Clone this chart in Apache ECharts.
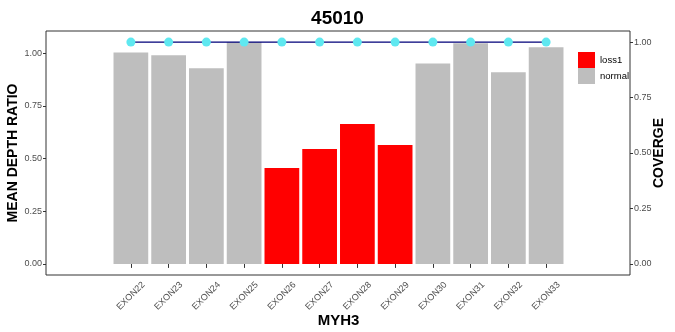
<!DOCTYPE html>
<html>
<head>
<meta charset="utf-8">
<script src="https://cdn.jsdelivr.net/npm/echarts@6/dist/echarts.min.js"></script>
<style>html,body{margin:0;padding:0;background:#fff}#c{width:675px;height:332px}</style>
</head>
<body>
<div id="c"></div>
<script>
const categories = ['EXON22','EXON23','EXON24','EXON25','EXON26','EXON27','EXON28','EXON29','EXON30','EXON31','EXON32','EXON33'];
const depthRatio = [1.003, 0.989, 0.928, 1.052, 0.455, 0.545, 0.663, 0.564, 0.950, 1.046, 0.909, 1.027];
const status = ['normal','normal','normal','normal','loss1','loss1','loss1','loss1','normal','normal','normal','normal'];
const coverage = [1,1,1,1,1,1,1,1,1,1,1,1];
const leftTicks = [0, 0.25, 0.5, 0.75, 1];
const rightTicks = [0, 0.25, 0.5, 0.75, 1];

const leftMin = -0.0526, leftMax = 1.1046;
const rightMin = -0.05, rightMax = 1.05;
const font = 'Liberation Sans, Arial, sans-serif';

const chart = echarts.init(document.getElementById('c'));
const axisBase = (min, max, ticks, pos, name, extra) => Object.assign({
  type: 'value', gridIndex: 0, position: pos, min: min, max: max,
  name: name, nameLocation: 'middle', nameMoveOverlap: false,
  nameTextStyle: {fontFamily: font, fontWeight: 'bold', fontSize: 14, color: '#000'},
  axisLine: {show: false},
  splitLine: {show: false},
  axisTick: {show: true, length: 3, customValues: ticks, lineStyle: {color: '#333'}},
  axisLabel: {show: true, customValues: ticks, fontFamily: font, fontSize: 9, color: '#4d4d4d', margin: 4,
    formatter: v => v.toFixed(2)}
}, extra || {});

chart.setOption({
  animation: false,
  title: {text: '45010', left: 'center', top: 4,
    textStyle: {fontFamily: font, fontWeight: 'bold', fontSize: 19, color: '#000'}},
  legend: {
    orient: 'vertical', left: 578, top: 52, padding: 0, itemGap: 0,
    itemWidth: 17, itemHeight: 16, itemTextGap: 3, icon: 'rect',
    data: ['loss1', 'normal'],
    textStyle: {fontFamily: font, fontSize: 9.5, color: '#000'}
  },
  grid: [
    {left: 46, right: 45, top: 31, bottom: 57, show: true, borderColor: '#333', borderWidth: 1,
      backgroundColor: 'transparent', outerBoundsMode: 'none', containLabel: false},
    {left: 112, right: 110, top: 31, bottom: 57, outerBoundsMode: 'none', containLabel: false}
  ],
  xAxis: [
    {type: 'value', gridIndex: 0, show: false, min: 0, max: 1},
    {type: 'category', gridIndex: 1, data: categories, boundaryGap: true,
      name: 'MYH3', nameLocation: 'middle', nameGap: 38, nameMoveOverlap: false,
      nameTextStyle: {fontFamily: font, fontWeight: 'bold', fontSize: 15, color: '#000'},
      axisLine: {show: false},
      axisTick: {show: true, alignWithLabel: true, length: 4, lineStyle: {color: '#333'}},
      axisLabel: {rotate: 45, align: 'center', verticalAlign: 'middle', fontFamily: font, fontSize: 9,
        color: '#4d4d4d', margin: 21, interval: 0}}
  ],
  yAxis: [
    axisBase(leftMin, leftMax, leftTicks, 'left', 'MEAN DEPTH RATIO', {nameGap: 26}),
    axisBase(rightMin, rightMax, rightTicks, 'right', 'COVERGE', {nameGap: 22, nameRotate: 90}),
    {type: 'value', gridIndex: 1, min: leftMin, max: leftMax, show: false},
    {type: 'value', gridIndex: 1, min: rightMin, max: rightMax, show: false}
  ],
  series: [
    {name: 'loss1', type: 'bar', stack: 'd', xAxisIndex: 1, yAxisIndex: 2, barWidth: '92%',
      itemStyle: {color: '#FF0000'},
      data: depthRatio.map((v, i) => status[i] === 'loss1' ? v : null)},
    {name: 'normal', type: 'bar', stack: 'd', xAxisIndex: 1, yAxisIndex: 2, barWidth: '92%',
      itemStyle: {color: '#BEBEBE'},
      data: depthRatio.map((v, i) => status[i] === 'normal' ? v : null)},
    {name: 'coverage', type: 'line', xAxisIndex: 1, yAxisIndex: 3,
      symbol: 'circle', symbolSize: 9,
      lineStyle: {color: '#00007a', width: 1.2},
      itemStyle: {color: '#5fe8f0'},
      data: coverage}
  ]
});
</script>
</body>
</html>
